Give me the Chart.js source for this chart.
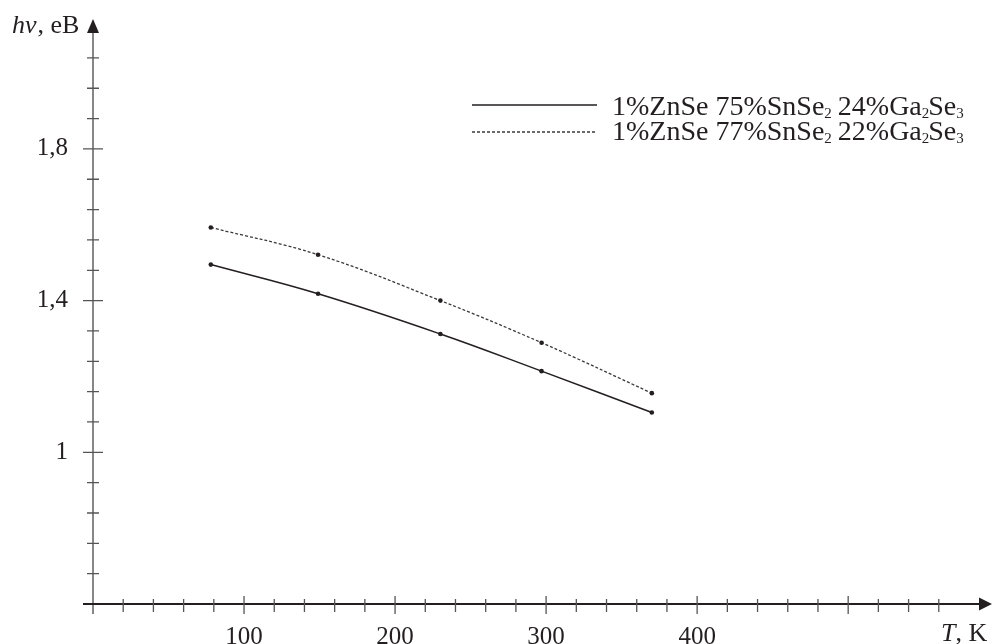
<!DOCTYPE html>
<html>
<head>
<meta charset="utf-8">
<script src="https://cdn.jsdelivr.net/npm/chart.js@4.4.0/dist/chart.umd.min.js"></script>
<style>
  html, body { margin: 0; padding: 0; background: #fff; }
</style>
</head>
<body>
<canvas id="chart" width="993" height="644"></canvas>
<script>
// Temperature, K
const temps = [78, 149, 230, 297, 370];
// Optical band gap hν, eB, for the two compositions
const gap75 = [1.495, 1.418, 1.312, 1.214, 1.105];
const gap77 = [1.593, 1.521, 1.400, 1.289, 1.156];
const seriesNames = ['1%ZnSe 75%SnSe₂ 24%Ga₂Se₃', '1%ZnSe 77%SnSe₂ 22%Ga₂Se₃'];

// Axis ticks
const xTicks = [0, 20, 40, 60, 80, 100, 120, 140, 160, 180, 200, 220, 240, 260, 280, 300,
                320, 340, 360, 380, 400, 420, 440, 460, 480, 500, 520, 540, 560];
const xMajor = [0, 100, 200, 300, 400, 500];
const xLabels = [100, 200, 300, 400];
const yTicks = [0.6, 0.68, 0.76, 0.84, 0.92, 1.0, 1.08, 1.16, 1.24, 1.32, 1.4,
                1.48, 1.56, 1.64, 1.72, 1.8, 1.88, 1.96, 2.04];
const yMajor = [0.6, 1.0, 1.4, 1.8];
const yLabels = [1.0, 1.4, 1.8];

const INK = '#231f20';
const SERIF = '"Liberation Serif", "Times New Roman", serif';

function has(list, v) {
    return list.some(a => Math.abs(a - v) < 1e-6);
}

// axes with crossing ticks and arrow heads
const axesPlugin = {
    id: 'axes',
    beforeDatasetsDraw(chart) {
        const ctx = chart.ctx;
        const xs = chart.scales.x, ys = chart.scales.y;
        const x0 = xs.getPixelForValue(0);
        const y0 = ys.getPixelForValue(0.6);
        const top = chart.chartArea.top;
        ctx.save();

        // y axis
        ctx.strokeStyle = '#5f5f5f';
        ctx.lineWidth = 1.5;
        ctx.beginPath();
        ctx.moveTo(x0, y0 + 10);
        ctx.lineTo(x0, top + 6);
        ctx.stroke();

        // x axis
        ctx.strokeStyle = INK;
        ctx.lineWidth = 2.2;
        ctx.beginPath();
        ctx.moveTo(x0 - 10, y0);
        ctx.lineTo(982, y0);
        ctx.stroke();

        // ticks
        ctx.strokeStyle = '#555';
        ctx.lineWidth = 1.3;
        ctx.beginPath();
        xTicks.forEach(v => {
            if (v === 0) return;
            const px = xs.getPixelForValue(v);
            const big = has(xMajor, v);
            ctx.moveTo(px, y0 - (big ? 8 : 5));
            ctx.lineTo(px, y0 + (big ? 10 : 8));
        });
        yTicks.forEach(v => {
            if (Math.abs(v - 0.6) < 1e-6) return;
            const py = ys.getPixelForValue(v);
            const big = has(yMajor, v);
            ctx.moveTo(x0 - (big ? 10 : 6), py);
            ctx.lineTo(x0 + (big ? 10 : 6), py);
        });
        ctx.stroke();

        // arrow heads
        ctx.fillStyle = INK;
        ctx.beginPath();
        ctx.moveTo(x0, top - 1);
        ctx.lineTo(x0 - 6, top + 13);
        ctx.lineTo(x0 + 6, top + 13);
        ctx.closePath();
        ctx.fill();
        ctx.beginPath();
        ctx.moveTo(992, y0);
        ctx.lineTo(979, y0 - 6.5);
        ctx.lineTo(979, y0 + 6.5);
        ctx.closePath();
        ctx.fill();

        // axis titles
        ctx.fillStyle = INK;
        ctx.textBaseline = 'alphabetic';
        ctx.textAlign = 'left';
        ctx.font = 'italic 26px ' + SERIF;
        ctx.fillText('hν', 12, 33);
        let w = ctx.measureText('hν').width;
        ctx.font = '26px ' + SERIF;
        ctx.fillText(', eB', 12 + w + 1, 33);

        ctx.font = 'italic 26px ' + SERIF;
        ctx.fillText('T', 941, 641);
        w = ctx.measureText('T').width;
        ctx.font = '26px ' + SERIF;
        ctx.fillText(', K', 941 + w, 641);
        ctx.restore();
    }
};

// draws a label, turning unicode subscript digits into small lowered text
function drawRich(ctx, text, x, y, size) {
    const subs = '₀₁₂₃₄₅₆₇₈₉';
    for (const ch of text) {
        const k = subs.indexOf(ch);
        if (k >= 0) {
            ctx.font = Math.round(size * 0.55) + 'px ' + SERIF;
            ctx.fillText(String(k), x, y + 3);
            x += ctx.measureText(String(k)).width - 1;
        } else {
            ctx.font = size + 'px ' + SERIF;
            ctx.fillText(ch, x, y);
            x += ctx.measureText(ch).width;
        }
    }
}

const legendPlugin = {
    id: 'richLegend',
    afterDraw(chart) {
        const ctx = chart.ctx;
        const rows = [{ lineY: 105, textY: 115 }, { lineY: 132, textY: 140 }];
        ctx.save();
        chart.data.datasets.forEach((ds, i) => {
            const r = rows[i];
            ctx.strokeStyle = ds.borderColor;
            ctx.lineWidth = 1.3;
            ctx.setLineDash(ds.borderDash || []);
            ctx.beginPath();
            ctx.moveTo(472, r.lineY);
            ctx.lineTo(597, r.lineY);
            ctx.stroke();
            ctx.setLineDash([]);
            ctx.fillStyle = INK;
            ctx.textBaseline = 'alphabetic';
            drawRich(ctx, ds.label, 612, r.textY, 28);
        });
        ctx.restore();
    }
};

const chart = new Chart(document.getElementById('chart'), {
    type: 'line',
    data: {
        datasets: [{
            label: seriesNames[0],
            data: temps.map((t, i) => ({ x: t, y: gap75[i] })),
            borderColor: INK,
            borderWidth: 1.5,
            pointRadius: 2.3,
            pointBackgroundColor: INK,
            pointBorderWidth: 0,
            tension: 0.4
        }, {
            label: seriesNames[1],
            data: temps.map((t, i) => ({ x: t, y: gap77[i] })),
            borderColor: '#3a3a3a',
            borderWidth: 1.3,
            borderDash: [3, 2],
            pointRadius: 2.3,
            pointBackgroundColor: INK,
            pointBorderWidth: 0,
            tension: 0.4
        }]
    },
    options: {
        responsive: false,
        animation: false,
        layout: { padding: { left: 0, right: 24, top: 20, bottom: 0 } },
        plugins: {
            legend: { display: false },
            tooltip: { enabled: false }
        },
        scales: {
            x: {
                type: 'linear',
                min: 0,
                max: 580,
                afterBuildTicks: s => { s.ticks = xTicks.map(v => ({ value: v })); },
                afterFit: s => { s.height = 40; s.paddingLeft = 0; s.paddingRight = 0; },
                grid: { display: false },
                border: { display: false },
                ticks: {
                    autoSkip: false,
                    maxRotation: 0,
                    padding: 10,
                    color: INK,
                    font: { family: SERIF, size: 25 },
                    callback: v => has(xLabels, v) ? String(v) : ''
                }
            },
            y: {
                type: 'linear',
                min: 0.6,
                max: 2.14,
                afterBuildTicks: s => { s.ticks = yTicks.map(v => ({ value: v })); },
                afterFit: s => { s.width = 93; s.paddingTop = 0; s.paddingBottom = 0; },
                grid: { display: false },
                border: { display: false },
                ticks: {
                    autoSkip: false,
                    padding: 17,
                    color: INK,
                    font: { family: SERIF, size: 25 },
                    callback: v => has(yLabels, v) ? String(+v.toFixed(1)).replace('.', ',') : ''
                }
            }
        }
    },
    plugins: [axesPlugin, legendPlugin]
});
</script>
</body>
</html>
